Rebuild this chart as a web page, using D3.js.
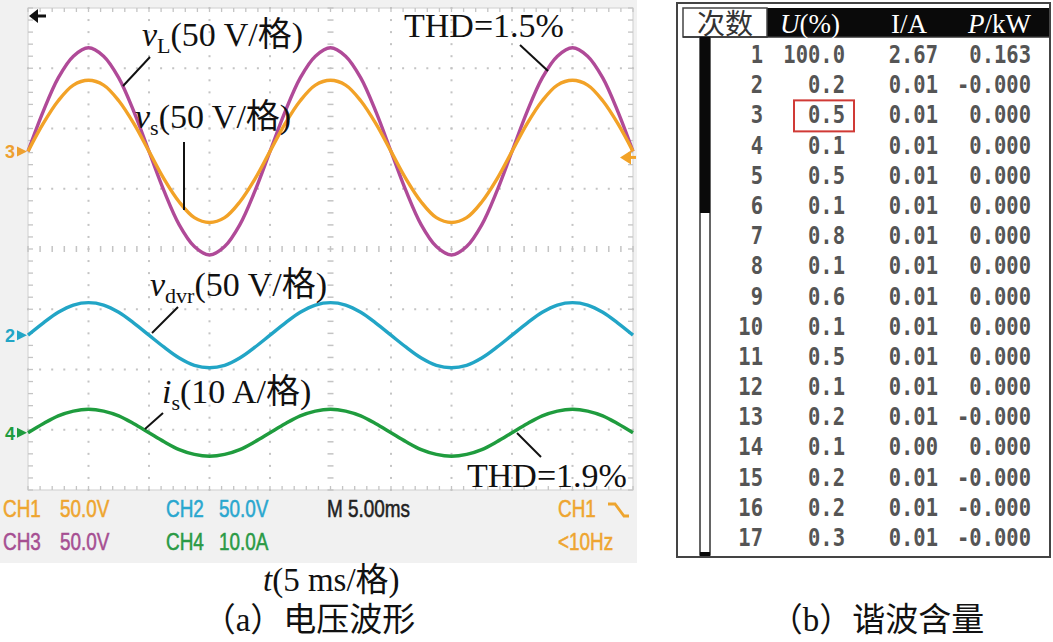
<!DOCTYPE html>
<html><head><meta charset="utf-8">
<script src="https://cdn.jsdelivr.net/npm/d3@7"></script>
<style>body{margin:0;background:#fff}svg{display:block}</style>
</head><body>
<svg id="c" width="1053" height="642"></svg>
<script>
// ---------- data ----------
const timeMs = [0,1.25,2.5,3.75,5,6.25,7.5,8.75,10,11.25,12.5,13.75,15,16.25,17.5,18.75,20,21.25,22.5,23.75,25,26.25,27.5,28.75,30,31.25,32.5,33.75,35,36.25,37.5,38.75,40,41.25,42.5,43.75,45,46.25,47.5,48.75,50];
const vL   = [0,33,61,79,86,79,61,33,0,-33,-61,-79,-86,-79,-61,-33,0,33,61,79,86,79,61,33,0,-33,-61,-79,-86,-79,-61,-33,0,33,61,79,86,79,61,33,0];
const vs   = [0,23,42,55,59,55,42,23,0,-23,-42,-55,-59,-55,-42,-23,0,23,42,55,59,55,42,23,0,-23,-42,-55,-59,-55,-42,-23,0,23,42,55,59,55,42,23,0];
const vdvr = [0,10,19,25,27,25,19,10,0,-10,-19,-25,-27,-25,-19,-10,0,10,19,25,27,25,19,10,0,-10,-19,-25,-27,-25,-19,-10,0,10,19,25,27,25,19,10,0];
const is_  = [0,1.5,2.8,3.6,3.9,3.6,2.8,1.5,0,-1.5,-2.8,-3.6,-3.9,-3.6,-2.8,-1.5,0,1.5,2.8,3.6,3.9,3.6,2.8,1.5,0,-1.5,-2.8,-3.6,-3.9,-3.6,-2.8,-1.5,0,1.5,2.8,3.6,3.9,3.6,2.8,1.5,0];
const perDiv  = {vL:50, vs:50, vdvr:50, is:10};          // units per division
const offsetDiv = {vL:1.62, vs:1.62, vdvr:-1.43, is:-3.05}; // channel offsets in divisions

const harmonicOrder = ["1","2","3","4","5","6","7","8","9","10","11","12","13","14","15","16","17"];
const harmonicU = ["100.0","0.2","0.5","0.1","0.5","0.1","0.8","0.1","0.6","0.1","0.5","0.1","0.2","0.1","0.2","0.2","0.3"];
const harmonicI = ["2.67","0.01","0.01","0.01","0.01","0.01","0.01","0.01","0.01","0.01","0.01","0.01","0.01","0.00","0.01","0.01","0.01"];
const harmonicP = ["0.163","-0.000","0.000","0.000","0.000","0.000","0.000","0.000","0.000","0.000","0.000","0.000","-0.000","0.000","-0.000","-0.000","-0.000"];
const tableHeader = ["次数","U(%)","I/A","P/kW"];

// ---------- oscilloscope ----------
const svg = d3.select("#c");
const X0=28, X1=633, Y0=8, Y1=490;
const x = d3.scaleLinear().domain([0,50]).range([X0,X1]);
const y = d3.scaleLinear().domain([-4,4]).range([Y1,Y0]);
const GRID="#c4c4c4";

svg.append("rect").attr("x",0).attr("y",0).attr("width",637).attr("height",563).attr("fill","#f1f1f1");
svg.append("rect").attr("x",X0).attr("y",Y0).attr("width",X1-X0).attr("height",Y1-Y0).attr("fill","#fff");
svg.append("rect").attr("x",X0).attr("y",Y0).attr("width",X1-X0).attr("height",Y1-Y0)
  .attr("fill","none").attr("stroke","#d6d6d6").attr("stroke-width",1.2);

const g = svg.append("g");
const divX = d3.range(0,51,5), divY = d3.range(-4,5,1);
const minorX = d3.range(0,50.01,1), minorY = d3.range(-4,4.01,0.2);
// dotted grid
divX.forEach(t=>{ if(t===0||t===50||t===25) return;
  minorY.forEach(v=>g.append("rect").attr("x",x(t)-1).attr("y",y(v)-1).attr("width",2).attr("height",2).attr("fill",GRID)); });
divY.forEach(v=>{ if(v===-4||v===4||v===0) return;
  minorX.forEach(t=>g.append("rect").attr("x",x(t)-1).attr("y",y(v)-1).attr("width",2).attr("height",2).attr("fill",GRID)); });
// centre crosshair ticks
minorX.forEach(t=>g.append("line").attr("x1",x(t)).attr("x2",x(t)).attr("y1",y(0)-3).attr("y2",y(0)+3).attr("stroke",GRID).attr("stroke-width",1.5));
minorY.forEach(v=>g.append("line").attr("x1",x(25)-3).attr("x2",x(25)+3).attr("y1",y(v)).attr("y2",y(v)).attr("stroke",GRID).attr("stroke-width",1.5));
// edge ticks
minorX.forEach(t=>{
  g.append("line").attr("x1",x(t)).attr("x2",x(t)).attr("y1",Y0).attr("y2",Y0+4).attr("stroke",GRID).attr("stroke-width",1.3);
  g.append("line").attr("x1",x(t)).attr("x2",x(t)).attr("y1",Y1-4).attr("y2",Y1).attr("stroke",GRID).attr("stroke-width",1.3);
});
minorY.forEach(v=>{
  g.append("line").attr("x1",X0).attr("x2",X0+5).attr("y1",y(v)).attr("y2",y(v)).attr("stroke",GRID).attr("stroke-width",1.3);
  g.append("line").attr("x1",X1-5).attr("x2",X1).attr("y1",y(v)).attr("y2",y(v)).attr("stroke",GRID).attr("stroke-width",1.3);
});

// traces
const traces = [
  {key:"vL", data:vL, color:"#b04a98"},
  {key:"vs", data:vs, color:"#f2a227"},
  {key:"vdvr", data:vdvr, color:"#22a5c6"},
  {key:"is", data:is_, color:"#1f9c3e"}
];
const line = d3.line().curve(d3.curveCatmullRom.alpha(0.5));
traces.forEach(tr=>{
  const pts = timeMs.map((t,i)=>[x(t), y(offsetDiv[tr.key] + tr.data[i]/perDiv[tr.key])]);
  svg.append("path").attr("d",line(pts)).attr("fill","none").attr("stroke",tr.color)
    .attr("stroke-width",3.4).attr("stroke-linejoin","round");
});

// channel markers
const markers = [
  {label:"3", key:"vL", color:"#eea030"},
  {label:"2", key:"vdvr", color:"#22a5c6"},
  {label:"4", key:"is", color:"#1f9c3e"}
];
markers.forEach(m=>{
  const yy = y(offsetDiv[m.key]);
  svg.append("text").attr("x",5).attr("y",yy+7).text(m.label)
    .attr("font-family","Liberation Sans, Arial").attr("font-weight","bold").attr("font-size",18).attr("fill",m.color);
  svg.append("path").attr("d",`M17,${yy-5} L27,${yy} L17,${yy+5} Z`).attr("fill",m.color);
});
// trigger level marker (right) and top arrow
svg.append("path").attr("d",`M620,${y(1.52)} L631,${y(1.52)-7} L631,${y(1.52)+7} Z`).attr("fill","#f2a227");
svg.append("line").attr("x1",628).attr("x2",636).attr("y1",y(1.52)).attr("y2",y(1.52)).attr("stroke","#f2a227").attr("stroke-width",3);
svg.append("path").attr("d","M29,16 L38,9 L38,23 Z").attr("fill","#111");
svg.append("line").attr("x1",34).attr("x2",46).attr("y1",16).attr("y2",16).attr("stroke","#111").attr("stroke-width",3);

// annotations
const SERIF = "Liberation Serif, 'Times New Roman', 'Noto Sans CJK SC', serif";
function ann(xp, yp, main, sub, rest){
  const t = svg.append("text").attr("x",xp).attr("y",yp).attr("font-family",SERIF).attr("font-size",34).attr("fill","#111");
  if(main){ t.append("tspan").attr("font-style","italic").text(main);
    t.append("tspan").attr("font-size",22).attr("dy",7).text(sub);
    t.append("tspan").attr("dy",-7).text(rest); }
  else t.text(rest);
}
function lead(x1,y1,x2,y2){ svg.append("line").attr("x1",x1).attr("y1",y1).attr("x2",x2).attr("y2",y2).attr("stroke","#111").attr("stroke-width",2); }
ann(142,46,"v","L","(50 V/格)"); lead(150,57,123,86);
ann(135,128,"v","s","(50 V/格)"); lead(184,142,184,210);
ann(404,37,null,null,"THD=1.5%"); lead(520,45,548,71);
ann(150,296,"v","dvr","(50 V/格)"); lead(178,307,152,333);
ann(162,403,"i","s","(10 A/格)"); lead(163,413,145,429);
ann(467,487,null,null,"THD=1.9%"); lead(517,433,541,457);

// status panel
const SANS = "'Liberation Sans', Arial, sans-serif";
const status = [
  {x:3, y:517, t:"CH1", c:"#eea52f"}, {x:60, y:517, t:"50.0V", c:"#eea52f"},
  {x:166, y:517, t:"CH2", c:"#2aa7cf"}, {x:219, y:517, t:"50.0V", c:"#2aa7cf"},
  {x:327, y:517, t:"M 5.00ms", c:"#222"},
  {x:558, y:517, t:"CH1", c:"#eea52f"},
  {x:3, y:550, t:"CH3", c:"#a64f92"}, {x:60, y:550, t:"50.0V", c:"#a64f92"},
  {x:166, y:550, t:"CH4", c:"#2a9a45"}, {x:219, y:550, t:"10.0A", c:"#2a9a45"},
  {x:558, y:550, t:"<10Hz", c:"#eea52f"}
];
status.forEach(s=>{
  svg.append("text").attr("transform",`translate(${s.x},${s.y}) scale(0.86,1.1)`).text(s.t)
    .attr("font-family",SANS).attr("font-size",22).attr("fill",s.c)
    .attr("stroke",s.c).attr("stroke-width",0.5);
});
svg.append("path").attr("d","M608,504 h7 l9,12 h5").attr("fill","none").attr("stroke","#eea52f").attr("stroke-width",2.8);

// axis caption & subtitle
const tl = svg.append("text").attr("x",263).attr("y",591).attr("font-family",SERIF).attr("font-size",33).attr("fill","#111");
tl.append("tspan").attr("font-style","italic").text("t");
tl.append("tspan").text("(5 ms/格)");
svg.append("text").attr("x",309).attr("y",631).attr("text-anchor","middle").attr("font-family",SERIF).attr("font-size",33).attr("fill","#111").text("（a）电压波形");
svg.append("text").attr("x",877).attr("y",631).attr("text-anchor","middle").attr("font-family",SERIF).attr("font-size",33).attr("fill","#111").text("（b）谐波含量");

// ---------- harmonic table ----------
const T = svg.append("g");
T.append("rect").attr("x",677).attr("y",3).attr("width",373).attr("height",554).attr("fill","#fff").attr("stroke","#444").attr("stroke-width",2);
T.append("rect").attr("x",767).attr("y",8).attr("width",282).attr("height",29).attr("fill","#0a0a0a");
T.append("rect").attr("x",683).attr("y",8).attr("width",84).attr("height",29).attr("fill","#fff").attr("stroke","#444").attr("stroke-width",1.5);
T.append("line").attr("x1",683).attr("x2",1049).attr("y1",37).attr("y2",37).attr("stroke","#333").attr("stroke-width",1.5);
// scrollbar
T.append("rect").attr("x",700).attr("y",37).attr("width",10).attr("height",518).attr("fill","#fff").attr("stroke","#333").attr("stroke-width",1.5);
T.append("rect").attr("x",700).attr("y",37).attr("width",10).attr("height",176).attr("fill","#0a0a0a");
T.append("rect").attr("x",700).attr("y",552).attr("width",10).attr("height",4).attr("fill","#0a0a0a");

T.append("text").attr("x",725).attr("y",34).attr("text-anchor","middle").attr("font-family","'Noto Sans CJK SC'")
  .attr("font-size",28).attr("fill","#333").text(tableHeader[0]);
const h1 = T.append("text").attr("x",780).attr("y",33).attr("font-family",SERIF).attr("font-size",27).attr("fill","#fff");
h1.append("tspan").attr("font-style","italic").text("U"); h1.append("tspan").text("(%)");
T.append("text").attr("x",891).attr("y",33).attr("font-family",SERIF).attr("font-size",27).attr("fill","#fff").text(tableHeader[2]);
const h3 = T.append("text").attr("x",968).attr("y",33).attr("font-family",SERIF).attr("font-size",27).attr("fill","#fff");
h3.append("tspan").attr("font-style","italic").text("P"); h3.append("tspan").text("/kW");

const rowY = d3.scaleLinear().domain([0,16]).range([63,546]);
const cols = [
  {arr:harmonicOrder, x:763},
  {arr:harmonicU, x:845},
  {arr:harmonicI, x:938},
  {arr:harmonicP, x:1031}
];
cols.forEach(col=>{
  col.arr.forEach((v,i)=>{
    T.append("text").attr("transform",`translate(${col.x},${rowY(i)}) scale(1,1.22)`)
      .attr("text-anchor","end").attr("font-family","'DejaVu Sans Mono', monospace").attr("font-weight","bold")
      .attr("font-size",20.5).attr("fill","#555").text(v);
  });
});
// highlight box (3rd harmonic U)
T.append("rect").attr("x",794).attr("y",rowY(2)-23).attr("width",60).attr("height",31)
  .attr("fill","none").attr("stroke","#d03a36").attr("stroke-width",2);
</script>
</body></html>
